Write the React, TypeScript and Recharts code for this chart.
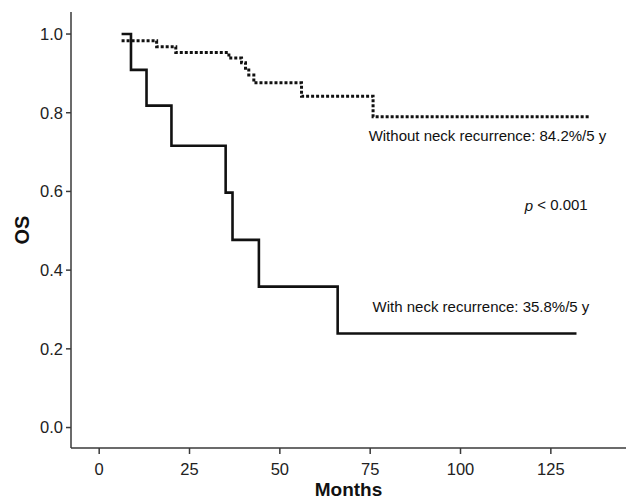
import { LineChart, Line, XAxis, YAxis, ReferenceDot } from "recharts";

// Kaplan-Meier steps (months, survival)
const withRecurrence = [
  { t: 6.2, s: 1.0 },
  { t: 8.8, s: 0.909 },
  { t: 13.1, s: 0.818 },
  { t: 20.0, s: 0.716 },
  { t: 35.0, s: 0.597 },
  { t: 36.9, s: 0.477 },
  { t: 44.2, s: 0.358 },
  { t: 66.0, s: 0.239 },
  { t: 132.1, s: 0.239 },
];

const withoutRecurrence = [
  { t: 6.2, s: 0.983 },
  { t: 15.9, s: 0.968 },
  { t: 21.2, s: 0.953 },
  { t: 35.9, s: 0.939 },
  { t: 39.4, s: 0.927 },
  { t: 40.5, s: 0.913 },
  { t: 41.4, s: 0.896 },
  { t: 42.8, s: 0.876 },
  { t: 56.0, s: 0.842 },
  { t: 75.8, s: 0.79 },
  { t: 135.8, s: 0.79 },
];

const xTicks = [0, 25, 50, 75, 100, 125];
const yTicks = [0, 0.2, 0.4, 0.6, 0.8, 1.0];

const annotations = [
  { t: 74.6, s: 0.741, text: "Without neck recurrence: 84.2%/5 y", italicP: false },
  { t: 75.7, s: 0.3075, text: "With neck recurrence: 35.8%/5 y", italicP: false },
  { t: 117.8, s: 0.566, text: " < 0.001", italicP: true },
];

const FONT = "'Liberation Sans', Arial, sans-serif";
const AXIS = "#3a3a3a";

function makeNote(text: string, italicP: boolean) {
  return (props: any) => {
    const vb = props.viewBox || {};
    return (
      <text
        x={vb.x}
        y={vb.y}
        dominantBaseline="central"
        fontFamily={FONT}
        fontSize={15}
        fill="#111"
      >
        {italicP && <tspan fontStyle="italic">p</tspan>}
        {text}
      </text>
    );
  };
}

const YTitle = (props: any) => {
  const vb = props.viewBox;
  const cx = vb.x + 22;
  const cy = vb.y + vb.height / 2;
  return (
    <text
      x={cx}
      y={cy}
      transform={`rotate(-90 ${cx} ${cy})`}
      textAnchor="middle"
      dominantBaseline="central"
      fontFamily={FONT}
      fontWeight="bold"
      fontSize={20}
      fill="#111"
    >
      OS
    </text>
  );
};

const XTitle = (props: any) => {
  const vb = props.viewBox;
  return (
    <text
      x={vb.x + vb.width / 2}
      y={496}
      textAnchor="middle"
      fontFamily={FONT}
      fontWeight="bold"
      fontSize={19}
      fill="#111"
    >
      Months
    </text>
  );
};

export default function App() {
  const tick = { fontSize: 16.5, fill: "#222", fontFamily: FONT };
  return (
    <div style={{ position: "absolute", left: 0, top: 0, background: "#fff" }}>
      <LineChart width={626} height={501} margin={{ top: 12, right: 0, bottom: 0, left: 0 }}>
        <XAxis
          dataKey="t"
          type="number"
          domain={[-7.8, 145.8]}
          ticks={xTicks}
          allowDataOverflow
          height={53}
          tickSize={6}
          tickMargin={9}
          tick={tick}
          stroke={AXIS}
          strokeWidth={1.5}
          label={{ content: XTitle }}
        />
        <XAxis
          xAxisId="top"
          orientation="top"
          type="number"
          domain={[-7.8, 145.8]}
          height={0}
          tick={false}
          tickLine={false}
          stroke={AXIS}
          strokeWidth={1.5}
        />
        <YAxis
          dataKey="s"
          type="number"
          domain={[-0.052, 1.056]}
          ticks={yTicks}
          allowDataOverflow
          width={71}
          tickSize={5}
          tickMargin={3}
          tick={tick}
          tickFormatter={(v: number) => v.toFixed(1)}
          stroke={AXIS}
          strokeWidth={1.5}
          label={{ content: YTitle }}
        />
        <Line
          data={withoutRecurrence}
          dataKey="s"
          type="stepAfter"
          stroke="#111"
          strokeWidth={3}
          strokeDasharray="3 2"
          dot={false}
          isAnimationActive={false}
        />
        <Line
          data={withRecurrence}
          dataKey="s"
          type="stepAfter"
          stroke="#111"
          strokeWidth={2.6}
          dot={false}
          isAnimationActive={false}
        />
        {annotations.map((a) => (
          <ReferenceDot
            key={a.text}
            x={a.t}
            y={a.s}
            r={0.1}
            fill="none"
            stroke="none"
            label={{ content: makeNote(a.text, a.italicP) }}
          />
        ))}
      </LineChart>
    </div>
  );
}
